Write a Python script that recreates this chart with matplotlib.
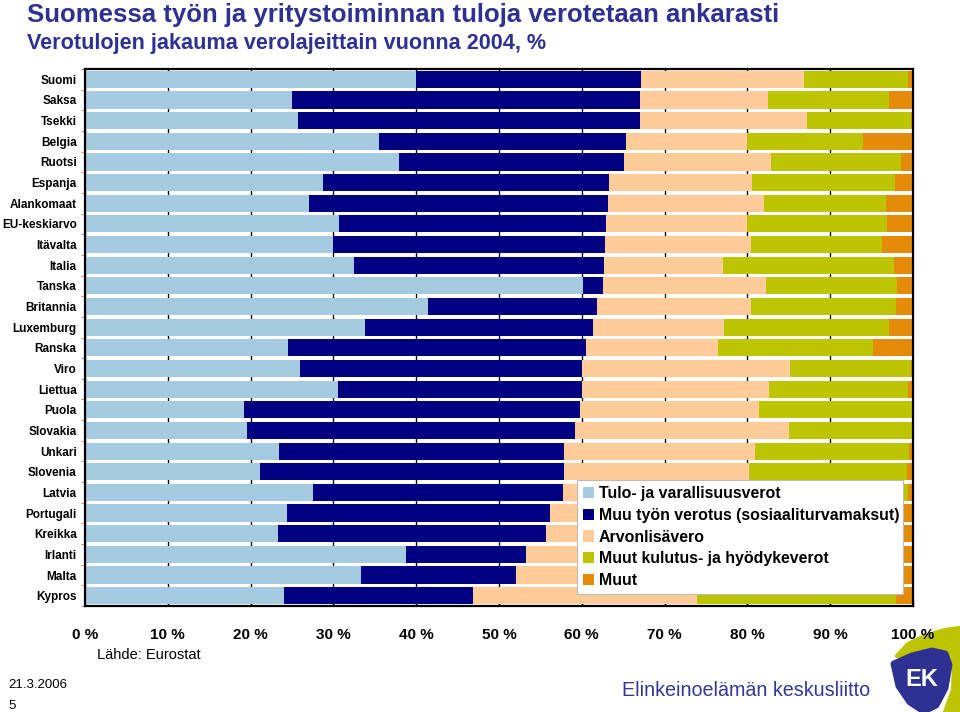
import matplotlib
matplotlib.use("Agg")
import matplotlib.pyplot as plt
from matplotlib.patches import Polygon, Patch

plt.rcParams['font.family'] = ['Liberation Sans', 'DejaVu Sans']

# Maat ylhäältä alas
maat = ["Suomi", "Saksa", "Tsekki", "Belgia", "Ruotsi", "Espanja", "Alankomaat",
        "EU-keskiarvo", "Itävalta", "Italia", "Tanska", "Britannia", "Luxemburg",
        "Ranska", "Viro", "Liettua", "Puola", "Slovakia", "Unkari", "Slovenia",
        "Latvia", "Portugali", "Kreikka", "Irlanti", "Malta", "Kypros"]

# Verolajien osuudet (%)
tulo = [40.0, 25.0, 25.7, 35.5, 37.9, 28.8, 27.1, 30.7, 30.0, 32.5, 60.1, 41.4, 33.8,
        24.5, 26.0, 30.6, 19.2, 19.6, 23.4, 21.1, 27.5, 24.4, 23.3, 38.8, 33.3, 24.0]
muu_tyo = [27.2, 42.0, 41.3, 29.8, 27.2, 34.5, 36.1, 32.2, 32.8, 30.2, 2.5, 20.4, 27.6,
           36.0, 34.0, 29.4, 40.6, 39.6, 34.5, 36.8, 30.2, 31.8, 32.4, 14.5, 18.7, 22.9]
alv = [19.6, 15.5, 20.2, 14.7, 17.8, 17.3, 18.8, 17.0, 17.6, 14.3, 19.6, 18.6, 15.8,
       15.9, 25.1, 22.6, 21.6, 25.8, 23.0, 22.3, 22.8, 25.8, 24.3, 24.7, 28.0, 27.0]
kulutus = [12.6, 14.6, 12.6, 14.0, 15.6, 17.2, 14.7, 17.0, 15.8, 20.7, 15.9, 17.5, 19.9,
           18.8, 14.7, 16.8, 18.6, 15.0, 18.6, 19.1, 18.9, 16.5, 18.2, 20.3, 18.3, 24.1]
muut = [0.6, 2.9, 0.2, 6.0, 1.5, 2.2, 3.3, 3.1, 3.8, 2.3, 1.9, 2.1, 2.9,
        4.8, 0.2, 0.6, 0.0, 0.0, 0.5, 0.7, 0.6, 1.5, 1.8, 1.7, 1.7, 2.0]

sarjat = ["Tulo- ja varallisuusverot", "Muu työn verotus (sosiaaliturvamaksut)",
          "Arvonlisävero", "Muut kulutus- ja hyödykeverot", "Muut"]
varit = ["#A6CBE1", "#000080", "#FFCC99", "#BDC400", "#E68A0A"]

otsikko = "Suomessa työn ja yritystoiminnan tuloja verotetaan ankarasti"
alaotsikko = "Verotulojen jakauma verolajeittain vuonna 2004, %"
tekstin_vari = "#2E3192"

fig = plt.figure(figsize=(9.6, 7.12), dpi=100)
ax = fig.add_axes([85 / 960, 1 - 606 / 712, 828 / 960, 537 / 712])

y = list(range(len(maat)))
vasen = [0.0] * len(maat)
for arvot, nimi, vari in zip([tulo, muu_tyo, alv, kulutus, muut], sarjat, varit):
    ax.barh(y, arvot, left=vasen, height=0.83, color=vari, label=nimi, zorder=3)
    vasen = [a + b for a, b in zip(vasen, arvot)]

ax.set_xlim(0, 100)
ax.set_ylim(len(maat) - 0.5, -0.5)
ax.set_yticks(y)
ax.set_yticklabels(maat, fontsize=8.5, fontweight='bold')
ax.set_yticks([i + 0.5 for i in range(-1, len(maat))], minor=True)
ax.tick_params(axis='y', which='major', length=0, pad=6)
ax.tick_params(axis='y', which='minor', length=3, color='#C08060', direction='out')

ax.set_xticks(range(0, 101, 10))
ax.set_xticklabels([f"{v} %" for v in range(0, 101, 10)], fontsize=11, fontweight='bold')
ax.tick_params(axis='x', length=4, direction='in', pad=16, width=1)
ax.grid(axis='x', color='black', linewidth=1, zorder=0)
for s in ax.spines.values():
    s.set_linewidth(1.6)
    s.set_zorder(4)

kahvat = [Patch(facecolor=v, edgecolor='none') for v in varit]
leg = ax.legend(kahvat, sarjat, loc='lower left', bbox_to_anchor=(0.594, 0.022, 0.394, 0.21),
                mode='expand', fancybox=False, framealpha=1, edgecolor='#BBBBBB',
                prop={'weight': 'bold', 'size': 11.4}, handlelength=0.7, handleheight=0.7,
                handletextpad=0.3, labelspacing=0.42, borderpad=0.4, borderaxespad=0)
leg.get_frame().set_linewidth(0.8)
leg.set_zorder(5)

fig.text(27 / 960, 1 - 3 / 712, otsikko, fontsize=18.5, fontweight='bold', color=tekstin_vari,
         va='top', ha='left')
fig.text(27 / 960, 1 - 33 / 712, alaotsikko, fontsize=15.6, fontweight='bold', color=tekstin_vari,
         va='top', ha='left')
fig.text(97 / 960, 1 - 655 / 712, "Lähde: Eurostat", fontsize=10.5, va='center', ha='left')
fig.text(8 / 960, 1 - 685 / 712, "21.3.2006", fontsize=9.5, va='center', ha='left')
fig.text(8 / 960, 1 - 706 / 712, "5", fontsize=9.5, va='center', ha='left')
fig.text(622 / 960, 1 - 691 / 712, "Elinkeinoelämän keskusliitto", fontsize=14.2,
         color='#34379A', va='center', ha='left')

# EK-logo
lax = fig.add_axes([0, 0, 1, 1], zorder=-1)
lax.set_xlim(0, 960)
lax.set_ylim(712, 0)
lax.axis('off')
vihrea = [(897, 656), (908, 644), (925, 636), (945, 630), (960, 628), (960, 712), (945, 712),
          (953, 690), (954, 668)]
sininen = [(894, 664), (912, 656), (932, 651), (945, 654), (949, 665), (945, 688), (936, 705),
           (924, 711), (910, 702), (899, 686)]
lax.add_patch(Polygon(vihrea, closed=True, facecolor='#BDC400', edgecolor='#BDC400',
                      linewidth=3, joinstyle='round'))
lax.add_patch(Polygon(sininen, closed=True, facecolor='#2E3192', edgecolor='#2E3192',
                      linewidth=5, joinstyle='round'))
lax.text(922, 680, "EK", fontsize=17, fontweight='bold', color='white', ha='center', va='center')

fig.savefig("out.png", dpi=100)
